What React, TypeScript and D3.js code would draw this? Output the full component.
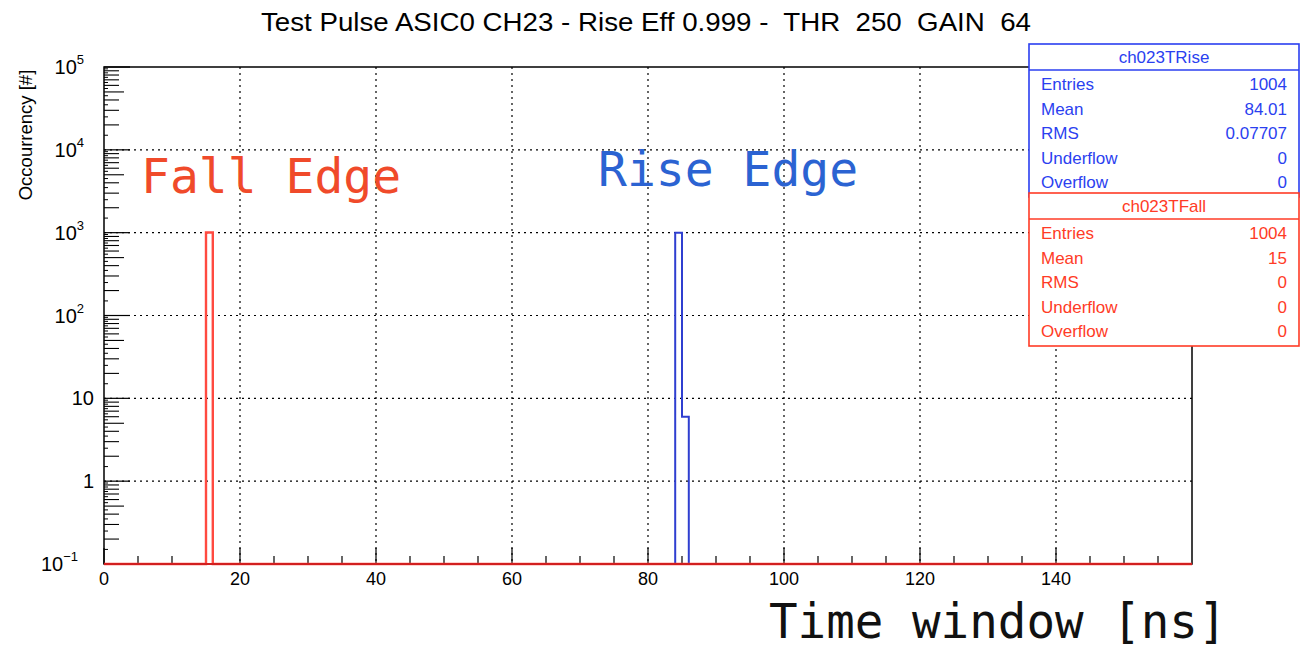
import React from "react";
import * as d3 from "d3";

const titleText = "Test Pulse ASIC0 CH23 - Rise Eff 0.999 -  THR  250  GAIN  64";
const xTicks = [0, 20, 40, 60, 80, 100, 120, 140];
const xDomain = [0, 160];
const yDecades = [-1, 0, 1, 2, 3, 4, 5];

// histogram bins: lower edge, width 1 ns
const fallEdges = [15];
const fallCounts = [1004];
const riseEdges = [84, 85];
const riseCounts = [998, 6];

const riseStatsLabels = ["Entries", "Mean", "RMS", "Underflow", "Overflow"];
const riseStatsValues = ["1004", "84.01", "0.07707", "0", "0"];
const fallStatsLabels = ["Entries", "Mean", "RMS", "Underflow", "Overflow"];
const fallStatsValues = ["1004", "15", "0", "0", "0"];

const W = 1300;
const H = 650;
const frame = { left: 104, right: 1192, top: 67, bottom: 564 };

const BLUE_STAT = "#2b3ff0";
const RED_STAT = "#ff3b26";
const BLUE_HIST = "#2f3fd0";
const RED_HIST = "#ff4a40";

export default function App() {
  const x = d3.scaleLinear().domain(xDomain).range([frame.left, frame.right]);
  const y = d3.scaleLog().domain([0.1, 1e5]).range([frame.bottom, frame.top]);
  const ymin = 0.1;

  function histPath(edges: number[], counts: number[]) {
    const pts: [number, number][] = [[xDomain[0], ymin]];
    edges.forEach((e, i) => {
      const prev = i > 0 && edges[i - 1] + 1 === e ? counts[i - 1] : ymin;
      pts.push([e, prev]);
      pts.push([e, counts[i]]);
      pts.push([e + 1, counts[i]]);
      const last = !(i < edges.length - 1 && edges[i + 1] === e + 1);
      if (last) pts.push([e + 1, ymin]);
    });
    pts.push([xDomain[1], ymin]);
    return d3.line<[number, number]>().x((d) => x(d[0])).y((d) => y(Math.max(d[1], ymin)))(pts) || "";
  }

  const xMinor = d3.range(0, 161, 5).filter((v) => v % 20 !== 0);
  const yMinor: number[] = [];
  const yTiny: number[] = [];
  yDecades.slice(0, -1).forEach((e) => {
    for (let m = 2; m <= 9; m++) yMinor.push(m * Math.pow(10, e));
    for (let m = 1.5; m < 10; m += 1) yTiny.push(m * Math.pow(10, e));
  });

  function statsBox(top: number, name: string, labels: string[], values: string[], color: string) {
    const left = 1029;
    const right = 1299;
    const rowH = 24.6;
    const headH = 26;
    const h = headH + rowH * labels.length + 4;
    return (
      <g>
        <rect x={left} y={top} width={right - left} height={h} fill="white" stroke={color} strokeWidth={1.6} />
        <line x1={left} x2={right} y1={top + headH} y2={top + headH} stroke={color} strokeWidth={1.4} />
        <text x={(left + right) / 2} y={top + 19} textAnchor="middle" fontSize={17} fill={color}>
          {name}
        </text>
        {labels.map((l, i) => (
          <g key={l}>
            <text x={left + 12} y={top + headH + 20 + i * rowH} fontSize={17} fill={color}>
              {l}
            </text>
            <text x={right - 12} y={top + headH + 20 + i * rowH} fontSize={17} fill={color} textAnchor="end">
              {values[i]}
            </text>
          </g>
        ))}
      </g>
    );
  }

  return (
    <svg
      width={W}
      height={H}
      style={{ position: "absolute", left: 0, top: 0, background: "white" }}
      fontFamily="'Liberation Sans', Arial, sans-serif"
    >
      <rect width={W} height={H} fill="white" />
      <text
        x={646}
        y={31}
        textAnchor="middle"
        fontSize={25}
        textLength={770}
        lengthAdjust="spacingAndGlyphs"
        style={{ whiteSpace: "pre" }}
      >
        {titleText}
      </text>

      {/* grid */}
      {xTicks.slice(1).map((v) => (
        <line key={"gx" + v} x1={x(v)} x2={x(v)} y1={frame.top} y2={frame.bottom} stroke="#000" strokeWidth={1.2} strokeDasharray="2 4" />
      ))}
      {yDecades.slice(1, -1).map((e) => (
        <line key={"gy" + e} x1={frame.left} x2={frame.right} y1={y(Math.pow(10, e))} y2={y(Math.pow(10, e))} stroke="#000" strokeWidth={1.2} strokeDasharray="2 4" />
      ))}

      {/* ticks */}
      {xTicks.map((v) => (
        <line key={"tx" + v} x1={x(v)} x2={x(v)} y1={frame.bottom} y2={frame.bottom - 16} stroke="#000" strokeWidth={1.2} />
      ))}
      {xMinor.map((v) => (
        <line key={"mx" + v} x1={x(v)} x2={x(v)} y1={frame.bottom} y2={frame.bottom - 8} stroke="#000" strokeWidth={1.2} />
      ))}
      {yDecades.map((e) => (
        <line key={"ty" + e} x1={frame.left} x2={frame.left + 26} y1={y(Math.pow(10, e))} y2={y(Math.pow(10, e))} stroke="#000" strokeWidth={1.2} />
      ))}
      {yMinor.map((v, i) => (
        <line key={"my" + i} x1={frame.left} x2={frame.left + (Math.round(v / Math.pow(10, Math.floor(Math.log10(v)))) === 5 ? 20 : 15)} y1={y(v)} y2={y(v)} stroke="#000" strokeWidth={1.1} />
      ))}
      {yTiny.map((v, i) => (
        <line key={"ny" + i} x1={frame.left} x2={frame.left + 4} y1={y(v)} y2={y(v)} stroke="#000" strokeWidth={1} />
      ))}

      {/* frame */}
      <rect x={frame.left} y={frame.top} width={frame.right - frame.left} height={frame.bottom - frame.top} fill="none" stroke="#000" strokeWidth={1.5} />

      {/* histograms */}
      <path d={histPath(riseEdges, riseCounts)} fill="none" stroke={BLUE_HIST} strokeWidth={2} />
      <path d={histPath(fallEdges, fallCounts)} fill="none" stroke={RED_HIST} strokeWidth={2.4} />
      <line x1={frame.left} x2={frame.right} y1={frame.bottom} y2={frame.bottom} stroke="#d21f1f" strokeWidth={2.2} />

      {/* y tick labels */}
      {yDecades.map((e) => {
        const yy = y(Math.pow(10, e));
        if (e === 0 || e === 1) {
          return (
            <text key={"ly" + e} x={94} y={yy + 7} textAnchor="end" fontSize={20}>
              {e === 0 ? "1" : "10"}
            </text>
          );
        }
        return (
          <text key={"ly" + e} x={e < 0 ? 78 : 84} y={yy + 7} textAnchor="end" fontSize={20}>
            10
            <tspan dy={-10} fontSize={13}>
              {e < 0 ? "\u2212" + Math.abs(e) : e}
            </tspan>
          </text>
        );
      })}

      {/* x tick labels */}
      {xTicks.map((v) => (
        <text key={"lx" + v} x={x(v)} y={585} textAnchor="middle" fontSize={18}>
          {v}
        </text>
      ))}

      <text transform="translate(32,135) rotate(-90)" textAnchor="middle" fontSize={18.5}>
        Occourrency [#]
      </text>

      <text x={141} y={193} fontFamily="'DejaVu Sans Mono', monospace" fontSize={48} fill="#f04a2a">
        Fall Edge
      </text>
      <text x={598} y={186} fontFamily="'DejaVu Sans Mono', monospace" fontSize={48} fill="#2b63d2">
        Rise Edge
      </text>
      <text x={769} y={638} fontFamily="'DejaVu Sans Mono', monospace" fontSize={47.5} fill="#111">
        Time window [ns]
      </text>

      {statsBox(44, "ch023TRise", riseStatsLabels, riseStatsValues, BLUE_STAT)}
      {statsBox(193, "ch023TFall", fallStatsLabels, fallStatsValues, RED_STAT)}
    </svg>
  );
}
